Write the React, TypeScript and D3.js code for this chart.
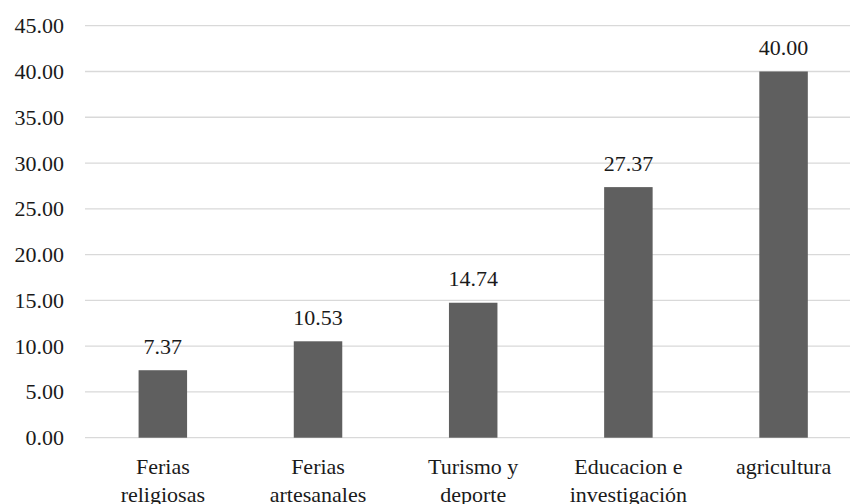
import React, { useEffect, useRef } from "react";
import * as d3 from "d3";

const categories: string[][] = [
  ["Ferias", "religiosas"],
  ["Ferias", "artesanales"],
  ["Turismo y", "deporte"],
  ["Educacion e", "investigación"],
  ["agricultura"],
];
const values: number[] = [7.37, 10.53, 14.74, 27.37, 40.0];
const yTicks: number[] = [0, 5, 10, 15, 20, 25, 30, 35, 40, 45];

const W = 850;
const H = 504;

export default function App() {
  const ref = useRef<SVGSVGElement>(null);

  useEffect(() => {
    const svg = d3.select(ref.current!);
    svg.selectAll("*").remove();
    const keys = categories.map((c) => c.join(" "));
    const x = d3
      .scaleBand<string>()
      .domain(keys)
      .range([85.2, 861.2])
      .paddingInner(0.6875)
      .paddingOuter(0.344);
    const y = d3.scaleLinear().domain([0, 45]).range([437.7, 25.7]);
    const fmt = d3.format(".2f");

    svg.append("rect").attr("width", W).attr("height", H).attr("fill", "#fff");

    const styleText = (sel: any) =>
      sel
        .style("font-family", "Liberation Serif", "important")
        .style("font-size", "22px", "important")
        .attr("fill", "#1a1a1a");

    const grid = svg.append("g");
    yTicks.forEach((t) => {
      grid
        .append("line")
        .attr("x1", 85)
        .attr("x2", W)
        .attr("y1", y(t))
        .attr("y2", y(t))
        .attr("stroke", "#d9d9d9")
        .attr("stroke-width", 1.3);
      grid
        .append("text")
        .attr("x", 64)
        .attr("y", y(t))
        .attr("dy", "0.34em")
        .attr("text-anchor", "end")
        .call(styleText)
        .text(fmt(t));
    });

    const bars = svg.append("g");
    values.forEach((v, i) => {
      const k = keys[i];
      const bx = x(k)!;
      const bw = x.bandwidth();
      const cx = bx + bw / 2;
      bars
        .append("rect")
        .attr("x", bx)
        .attr("y", y(v))
        .attr("width", bw)
        .attr("height", y(0) - y(v))
        .attr("fill", "#5f5f5f");
      bars
        .append("text")
        .attr("x", cx)
        .attr("y", y(v) - 16.5)
        .attr("text-anchor", "middle")
        .call(styleText)
        .text(fmt(v));
      categories[i].forEach((line, j) => {
        bars
          .append("text")
          .attr("x", cx)
          .attr("y", 474 + j * 27.5)
          .attr("text-anchor", "middle")
          .call(styleText)
          .text(line);
      });
    });
  }, []);

  return (
    <svg
      ref={ref}
      width={W}
      height={H}
      style={{ position: "absolute", left: 0, top: 0, background: "#fff" }}
    />
  );
}
